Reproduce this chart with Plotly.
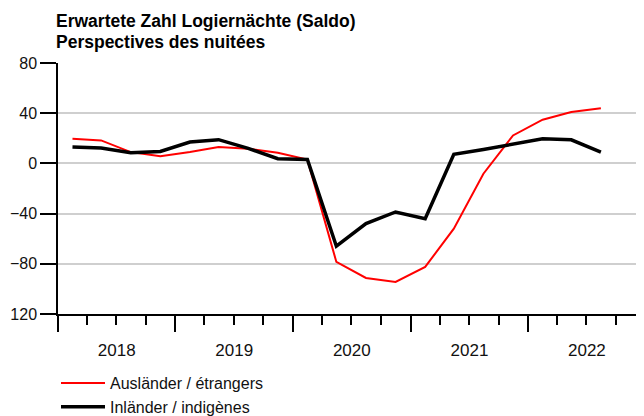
import plotly.graph_objects as go

quarters = ["2018Q1", "2018Q2", "2018Q3", "2018Q4",
            "2019Q1", "2019Q2", "2019Q3", "2019Q4",
            "2020Q1", "2020Q2", "2020Q3", "2020Q4",
            "2021Q1", "2021Q2", "2021Q3", "2021Q4",
            "2022Q1", "2022Q2", "2022Q3"]
auslaender = [19.7, 18.3, 9, 5.8, 9, 13, 11.7, 8.5, 3,
              -78.5, -91.3, -94.5, -82.5, -52, -8.2, 22.3, 34.8, 40.9, 44]
inlaender = [13, 12.2, 8.5, 9.5, 17, 18.9, 12, 3.7, 3.2,
             -66, -48, -38.7, -44, 7.2, 11.1, 15.7, 19.6, 18.8, 9]
y_tickvals = [-120, -80, -40, 0, 40, 80]
y_ticktext = ["120", "\u221280", "\u221240", "0", "40", "80"]
series_names = ["Ausländer / étrangers", "Inländer / indigènes"]
title_lines = ["Erwartete Zahl Logiernächte (Saldo)", "Perspectives des nuitées"]


def mid_quarter(q):
    year = int(q[:4])
    qn = int(q[-1])
    return f"{year}-{3 * (qn - 1) + 2:02d}-15"


xdates = [mid_quarter(q) for q in quarters]
FONT = "Liberation Sans, Arial, sans-serif"

# the page body adds an 8px offset; the figure is sized to fill the rest
W, H = 636, 408

fig = go.Figure()
fig.add_trace(go.Scatter(x=xdates, y=auslaender, mode="lines", name=series_names[0],
                         line=dict(color="#ff0000", width=2)))
fig.add_trace(go.Scatter(x=xdates, y=inlaender, mode="lines", name=series_names[1],
                         line=dict(color="#000000", width=3.5)))

fig.update_layout(
    width=W, height=H, autosize=False,
    margin=dict(l=50, r=0, t=55, b=102, autoexpand=False),
    paper_bgcolor="white", plot_bgcolor="white",
    font=dict(family=FONT, size=16, color="#111111"),
    showlegend=True,
    legend=dict(orientation="v", x=48 / W, xanchor="left", xref="container",
                y=1 - 358 / H, yanchor="top", yref="container",
                font=dict(size=16), bgcolor="rgba(0,0,0,0)", itemwidth=44,
                traceorder="normal", tracegroupgap=0),
    xaxis=dict(
        type="date",
        range=["2018-01-01", "2022-12-27"],
        tick0="2018-01-01", dtick="M12", tickformat="%Y", ticklabelmode="period",
        ticks="outside", ticklen=16, tickwidth=1.5, tickcolor="black",
        showline=True, linecolor="black", linewidth=2,
        showgrid=False, zeroline=False,
        tickfont=dict(size=17), ticklabelstandoff=4,
        minor=dict(dtick="M3", tick0="2018-01-01", ticks="outside", ticklen=9,
                   tickwidth=1.5, tickcolor="black", showgrid=False),
    ),
    yaxis=dict(
        range=[-120, 80],
        tickvals=y_tickvals, ticktext=y_ticktext,
        ticks="outside", ticklen=16, tickwidth=1.5, tickcolor="black",
        showline=True, linecolor="black", linewidth=1.5,
        showgrid=True, gridcolor="#cfcfcf", gridwidth=1.5,
        zeroline=False, tickfont=dict(size=16),
    ),
)

fig.add_annotation(text="<b>" + title_lines[0] + "</b>", xref="paper", yref="paper",
                   x=0, y=1, xanchor="left", yanchor="bottom", yshift=30, xshift=-4,
                   showarrow=False, font=dict(size=17.5, color="black"))
fig.add_annotation(text="<b>" + title_lines[1] + "</b>", xref="paper", yref="paper",
                   x=0, y=1, xanchor="left", yanchor="bottom", yshift=9, xshift=-4,
                   showarrow=False, font=dict(size=17.5, color="black"))

fig.write_html("out.html")
